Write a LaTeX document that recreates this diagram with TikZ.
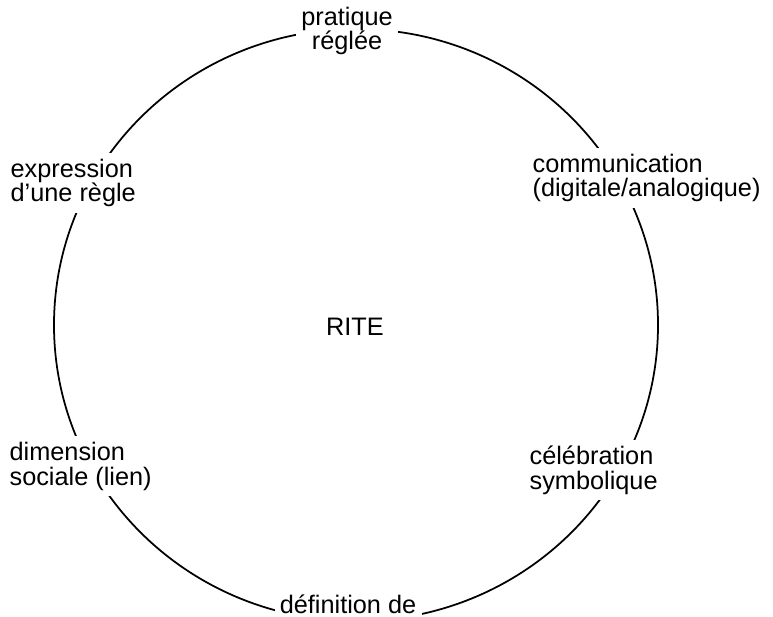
\documentclass[tikz,border=0pt]{standalone}
\usepackage{fontspec}
\setmainfont{Liberation Sans}
\tikzset{
    rim/.style =    {line width=1pt,
                    draw=black},
    term/.style =   {fill=white,
                    text=black,
                    align=left,
                    inner sep=3pt,
                    font=\fontsize{14.4pt}{14.2pt}\selectfont},
    x=0.02cm,
    y=-0.02cm}
\begin{document}
\begin{tikzpicture}
    \useasboundingbox (0,0) rectangle (773,617);
    \coordinate (O) at (356,325);
    \draw[rim] (O) ellipse [x radius=302, y radius=296];
    % last line baselines
    \node[term, align=center, anchor=base] (P) at (347,50)  {pratique\\réglée};
    \node[term, anchor=base west]          (E) at (5,202)   {expression\\d’une règle};
    \node[term, anchor=base west]          (C) at (527,197) {communication\\(digitale/analogique)};
    \node[term, anchor=base west]          (D) at (4,485)   {dimension\\sociale (lien)};
    \node[term, anchor=base west]          (S) at (524,489) {célébration\\symbolique};
    \node[term, anchor=base]               (F) at (348,613) {définition de};
    \node[term, anchor=base]               (R) at (355,336) {RITE};
\end{tikzpicture}
\end{document}
